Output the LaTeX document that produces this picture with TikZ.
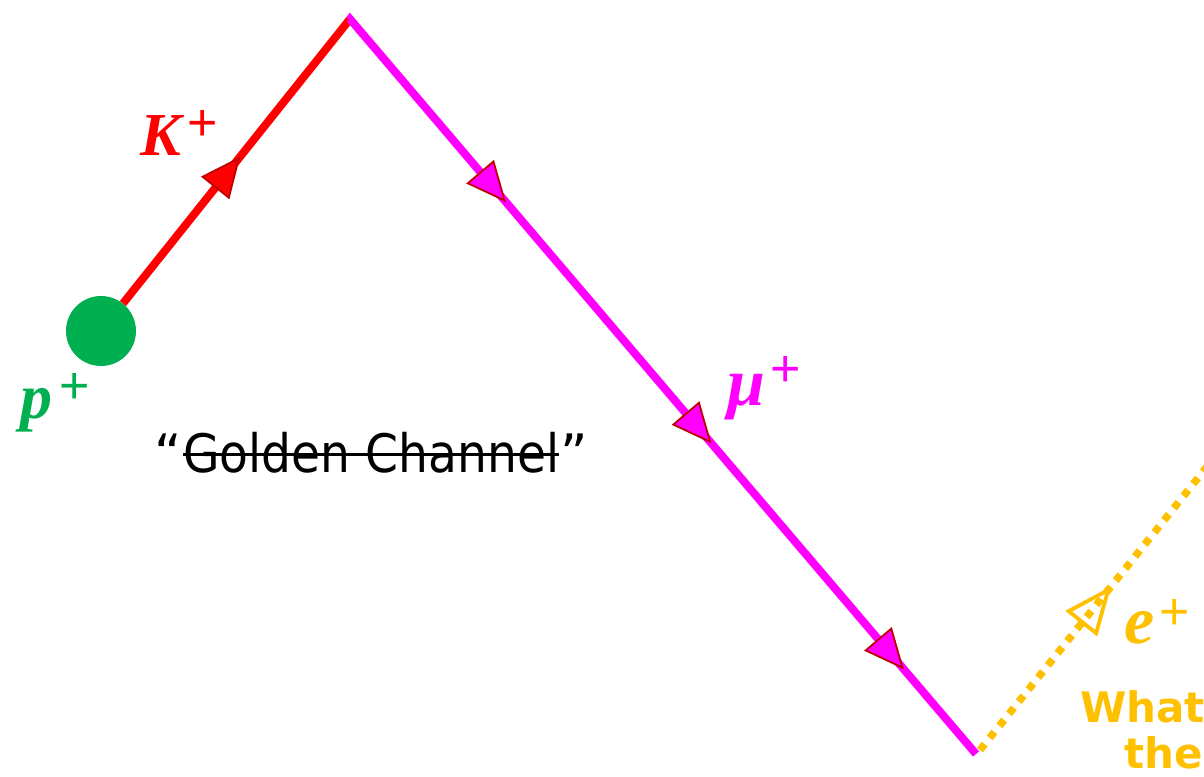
\documentclass[tikz,border=0pt]{standalone}
\usepackage{fontspec}
\setmainfont{DejaVu Sans}
\newfontfamily\labfont{Liberation Serif}
\newfontfamily\plusfont{Liberation Sans}
\usetikzlibrary{arrows.meta,decorations.markings,calc}
\definecolor{pgreen}{HTML}{00B050}
\definecolor{kred}{HTML}{FF0000}
\definecolor{mmag}{HTML}{FF00FF}
\definecolor{edgered}{HTML}{C00000}
\definecolor{eyel}{HTML}{FFC000}
\newcommand{\plabel}[5]{{\labfont\fontsize{#1}{#1}\selectfont\bfseries\itshape #2\kern#3\raisebox{#4}{\plusfont\mdseries\upshape\fontsize{#5}{#5}\selectfont +}}}
\begin{document}
\begin{tikzpicture}[x=1pt,y=-1pt,
  track/.style={line width=8pt},
  lbl/.style={anchor=base west, inner sep=0pt},
  txt/.style={anchor=base west, inner sep=0pt}]
\useasboundingbox (0,0) rectangle (1204,776);
\clip (0,0) rectangle (1204,776);

\coordinate (apex) at (350,19);
\coordinate (mend) at (976,754);
\coordinate (estart) at (980,750);
\coordinate (eend) at (1230,438);

\node[circle, fill=pgreen, minimum size=70pt, inner sep=0pt] (p) at (101,331) {};

% K+ track
\draw[kred, track, postaction={decorate},
  decoration={markings, mark=at position 0.516 with {\arrow{Triangle[length=40pt,width=36pt,line width=1.8pt,color=edgered,fill=kred]}}}]
  (p) -- (apex);

% mu+ track
\draw[mmag, track, miter limit=10, postaction={decorate},
  decoration={markings,
    mark=at position 0.25 with {\arrow{Triangle[length=40pt,width=36pt,line width=1.8pt,color=edgered,fill=mmag]}},
    mark=at position 0.578 with {\arrow{Triangle[length=40pt,width=36pt,line width=1.8pt,color=edgered,fill=mmag]}},
    mark=at position 0.885 with {\arrow{Triangle[length=40pt,width=36pt,line width=1.8pt,color=edgered,fill=mmag]}}}]
  ($(apex)!1pt!(p)$) -- (apex) -- (mend);

% e+ track
\draw[eyel, line width=7.5pt, dash pattern=on 7.5pt off 8pt, postaction={decorate},
  decoration={markings, mark=at position 0.525 with {\arrow{Triangle[open,length=48pt,width=40pt,line width=3.8pt]}}}]
  (estart) -- (eend);

% labels
\node[lbl, text=kred] (klab) at (140,155) {\plabel{61pt}{K}{7pt}{15pt}{52pt}};
\node[lbl, text=pgreen] (plab) at (20,418) {\plabel{64pt}{p}{7pt}{15pt}{52pt}};
\node[lbl, text=mmag] (mulab) at (727,405) {\plabel{68pt}{μ}{5pt}{19pt}{52pt}};
\node[lbl, text=eyel] (elab) at (1124,643) {\plabel{68pt}{e}{5pt}{14pt}{52pt}};

% Golden Channel
\node[txt, font=\fontsize{53pt}{53pt}\selectfont] (gc) at (183,472) {\scalebox{0.89}[1]{Golden Channel}};
\node[anchor=base east, inner sep=0pt, font=\fontsize{53pt}{53pt}\selectfont] (lq) at ($(gc.base west)+(-1,0)$) {“};
\node[anchor=base west, inner sep=0pt, font=\fontsize{53pt}{53pt}\selectfont] (rq) at ($(gc.base east)+(1,0)$) {”};
\draw[line width=3pt] ([yshift=18pt]gc.base west) -- ([yshift=18pt]gc.base east);

% question text
\node[txt, text=eyel, font=\fontsize{42pt}{42pt}\selectfont\bfseries] (what) at (1080,722) {What};
\node[txt, text=eyel, font=\fontsize{42pt}{42pt}\selectfont\bfseries] (the) at (1124,768) {the};
\end{tikzpicture}
\end{document}
